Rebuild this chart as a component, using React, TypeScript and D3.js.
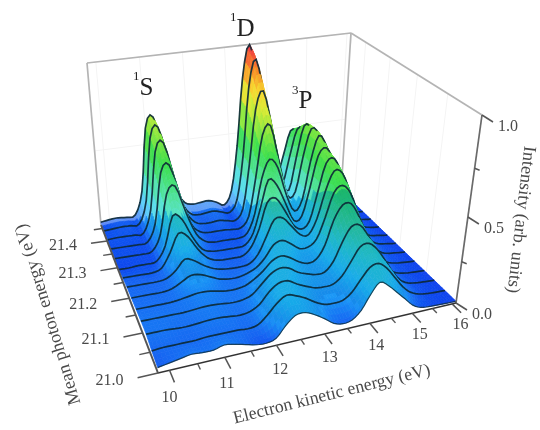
import React from "react";
import * as d3 from "d3";

const energies = [9.8,10,10.2,10.4,10.6,10.8,11,11.2,11.4,11.6,11.8,12,12.2,12.4,12.6,12.8,13,13.2,13.4,13.6,13.8,14,14.2,14.4,14.6,14.8,15,15.2,15.4,15.6,15.8,16,16.1];
const photonRows = [21.0,21.036,21.072,21.107,21.143,21.179,21.215,21.25,21.286,21.322,21.358,21.393,21.429,21.465];

const row00 = [.03,.04,.05,.06,.055,.055,.07,.06,.045,.03,.025,.04,.10,.145,.15,.125,.09,.05,.035,.045,.09,.17,.23,.2,.15,.1,.05,.025,.018,.015,.013,.012,.01];
const row01 = [.04,.045,.045,.045,.045,.05,.05,.05,.05,.045,.055,.1,.155,.19,.175,.15,.115,.09,.085,.09,.125,.19,.25,.265,.225,.16,.095,.05,.028,.018,.014,.012,.01];
const row02 = [.055,.055,.055,.05,.05,.055,.06,.06,.055,.05,.06,.09,.15,.19,.195,.165,.14,.12,.115,.12,.16,.235,.31,.32,.275,.2,.12,.06,.03,.02,.015,.012,.01];
const row03 = [.055,.055,.055,.055,.055,.06,.065,.065,.06,.055,.06,.08,.13,.18,.205,.195,.16,.14,.125,.13,.185,.29,.37,.37,.3,.205,.11,.055,.03,.02,.015,.012,.01];
const row04 = [.05,.05,.05,.05,.055,.065,.075,.075,.065,.055,.055,.065,.095,.135,.185,.205,.185,.15,.13,.145,.22,.36,.44,.44,.355,.24,.13,.065,.035,.022,.016,.012,.01];
const row05 = [.045,.045,.045,.045,.055,.085,.115,.11,.085,.06,.05,.05,.065,.09,.14,.21,.23,.2,.16,.16,.2,.32,.46,.495,.44,.31,.19,.1,.045,.025,.018,.012,.01];
const row06 = [.04,.04,.04,.04,.05,.09,.15,.13,.09,.06,.045,.04,.04,.05,.1,.2,.3,.3,.24,.18,.17,.26,.42,.53,.51,.39,.25,.13,.06,.03,.02,.012,.01];
const row07 = [.03,.03,.03,.03,.05,.14,.25,.22,.13,.065,.04,.035,.035,.04,.09,.2,.35,.37,.29,.19,.15,.19,.36,.53,.55,.44,.29,.15,.07,.03,.02,.012,.01];
const row08 = [.015,.015,.02,.02,.03,.12,.3,.27,.15,.06,.035,.03,.03,.03,.04,.11,.27,.43,.39,.27,.15,.17,.34,.53,.57,.47,.31,.17,.08,.035,.02,.012,.01];
const row09 = [.02,.02,.02,.02,.03,.13,.38,.42,.25,.1,.04,.025,.025,.025,.025,.05,.17,.39,.5,.44,.26,.15,.22,.45,.6,.53,.39,.22,.1,.04,.02,.012,.01];
const row10 = [.02,.02,.02,.02,.03,.15,.46,.5,.3,.11,.045,.03,.03,.03,.025,.03,.1,.34,.6,.65,.42,.2,.22,.44,.6,.56,.43,.26,.12,.05,.02,.012,.01];
const row11 = [.02,.025,.025,.025,.03,.18,.54,.59,.36,.14,.055,.035,.035,.04,.03,.025,.1,.38,.71,.81,.58,.27,.18,.39,.58,.55,.42,.25,.12,.05,.02,.012,.01];
const row12 = [.02,.025,.03,.03,.035,.19,.58,.64,.4,.16,.06,.04,.045,.05,.035,.025,.11,.4,.8,.95,.68,.31,.18,.35,.52,.5,.38,.23,.11,.05,.02,.012,.01];
const row13 = [.02,.03,.035,.03,.04,.2,.6,.66,.42,.18,.08,.06,.065,.07,.05,.025,.12,.42,.82,1.0,.76,.36,.18,.31,.47,.45,.34,.2,.1,.05,.02,.012,.01];
const intensityRows = [row00,row01,row02,row03,row04,row05,row06,row07,row08,row09,row10,row11,row12,row13];

const xTicks = [10,11,12,13,14,15,16];
const xMinor = [10.5,11.5,12.5,13.5,14.5,15.5];
const yTicks = [21.0,21.1,21.2,21.3,21.4];
const yMinor = [21.05,21.15,21.25,21.35,21.45];
const zTicks = [0,0.5,1];
const zMinor = [0.25,0.75];

type P = [number, number];
const floorQuad: P[] = [[158,373],[456,303],[341,192],[101,225]];
const topQuad: P[] = [[146,160],[482,115],[351,33],[87,63]];

function quadMap(q: P[]) {
  const [[x0,y0],[x1,y1],[x2,y2],[x3,y3]] = q;
  const dx1=x1-x2, dx2=x3-x2, sx=x0-x1+x2-x3, dy1=y1-y2, dy2=y3-y2, sy=y0-y1+y2-y3;
  const det=dx1*dy2-dx2*dy1;
  const g=(sx*dy2-dx2*sy)/det, h=(dx1*sy-sx*dy1)/det;
  const a=x1-x0+g*x1, b=x3-x0+h*x3, d=y1-y0+g*y1, e=y3-y0+h*y3;
  return (u:number,v:number):P=>{
    const w=1+g*u+h*v;
    return [(a*u+b*v+x0)/w,(d*u+e*v+y0)/w];
  };
}
const floorMap = quadMap(floorQuad);
const topMap = quadMap(topQuad);
const uScale = d3.scaleLinear().domain([9.8,16.1]).range([0,1]);
const vScale = d3.scaleLinear().domain([21.0,21.465]).range([0,1]);
const K = 0.843;
const tOf = (z:number)=> z*K/(1-z+z*K);
function project(u:number,v:number,z:number):P{
  const f=floorMap(u,v), t=topMap(u,v), s=tOf(z);
  return [f[0]+(t[0]-f[0])*s, f[1]+(t[1]-f[1])*s];
}

const cr=(a:number,b:number,c:number,d:number,t:number)=>
  0.5*(2*b+(c-a)*t+(2*a-5*b+4*c-d)*t*t+(3*b-a-3*c+d)*t*t*t);
function resample(arr:number[],n:number){
  const out:number[]=[];
  for(let i=0;i<arr.length-1;i++){
    const a=arr[Math.max(i-1,0)],b=arr[i],c=arr[i+1],d=arr[Math.min(i+2,arr.length-1)];
    for(let k=0;k<n;k++) out.push(cr(a,b,c,d,k/n));
  }
  out.push(arr[arr.length-1]);
  return out;
}
const SUBX=3, SUBY=4;
const fineX=resample(energies,SUBX);
const fineRowsByX=intensityRows.map(r=>resample(r,SUBX));
const fineV=resample(photonRows,SUBY);
const nCol=fineX.length;
const columns=d3.range(nCol).map(j=>resample(fineRowsByX.map(r=>r[j]),SUBY).map(z=>Math.max(0.004,Math.min(1,z))));
const nRow=fineV.length;
const grid:P[][]=d3.range(nRow).map(i=>d3.range(nCol).map(j=>project(uScale(fineX[j]),vScale(fineV[i]),columns[j][i])));

const colorStops=d3.scaleLinear<string>()
  .domain([0,.04,.1,.18,.28,.36,.5,.62,.72,.8,.9,1])
  .range(["#0c34ec","#1668f4","#1c9cf8","#24ccf6","#2cdcc8","#30dc90","#28dc3c","#8ce838","#dcec38","#f8d830","#f88828","#f03048"])
  .clamp(true);
const backA=project(0,1,0), backB=project(1,1,0);
function shade(z:number,x:number,y:number){
  const c=d3.rgb(colorStops(z));
  const yl=backA[1]+(backB[1]-backA[1])*(x-backA[0])/(backB[0]-backA[0]);
  if(y>yl){
    return d3.interpolateRgb(c,"#005ac8")(z<0.1?0.05:0.28);
  }
  return d3.interpolateRgb(c,"#ffffff")(Math.max(0,0.34*(1-z/0.7)));
}
const pathLine=d3.line<P>().x(d=>d[0]).y(d=>d[1]);

function surface(){
  const els:React.ReactNode[]=[];
  for(let i=nRow-1;i>=1;i--){
    for(let j=nCol-1;j>=1;j--){
      const pts:P[]=[grid[i][j],grid[i][j-1],grid[i-1][j-1],grid[i-1][j]];
      const z=(columns[j][i]+columns[j-1][i]+columns[j][i-1]+columns[j-1][i-1])/4;
      const cx=d3.mean(pts,p=>p[0])!, cy=d3.mean(pts,p=>p[1])!;
      const c=shade(z,cx,cy);
      els.push(<path key={`q${i}-${j}`} d={pathLine(pts)+"Z"} fill={c} stroke={c} strokeWidth={0.7}/>);
    }
    if(i%SUBY===SUBY-1){
      const ri=i+1;
      els.push(<path key={`l${ri}`} d={pathLine(grid[ri])!} fill="none" stroke="#0e2a38" strokeOpacity={0.92} strokeWidth={1.7}/>);
    }
  }
  els.push(<path key="l0" d={pathLine(grid[0])!} fill="none" stroke="#0e2a38" strokeOpacity={0.8} strokeWidth={1.2}/>);
  return els;
}
const TICKC="#555";
const LAB="#4a4a4a";
const serif="'Liberation Serif','Times New Roman',serif";
function seg(a:P,b:P,stroke:string,w:number,key:string){
  return <line key={key} x1={a[0]} y1={a[1]} x2={b[0]} y2={b[1]} stroke={stroke} strokeWidth={w}/>;
}

export default function App(){
  const wallC="#b4b4b4";
  const gridC="#f4f4f4";
  return (
    <svg width={540} height={430} style={{position:"absolute",left:0,top:0}} fontFamily={serif}>
      <defs>
        <filter id="soft" x="0" y="0" width="100%" height="100%"><feGaussianBlur stdDeviation="0.7"/></filter>
      </defs>
      <rect width={540} height={430} fill="#fff"/>
      <g filter="url(#soft)">
        {xTicks.map(t=>seg(project(uScale(t),1,0),project(uScale(t),1,1),gridC,1,"gx"+t))}
        {yTicks.map(t=>seg(project(1,vScale(t),0),project(1,vScale(t),1),gridC,1,"gy"+t))}
        {zTicks.map(t=>seg(project(0,1,t),project(1,1,t),gridC,1,"gz"+t))}
        {seg(project(0,1,1),project(1,1,1),wallC,1.7,"w1")}
        {seg(project(0,1,0),project(0,1,1),wallC,1.7,"w2")}
        {seg(project(1,1,0),project(1,1,1),wallC,1.7,"w3")}
        {seg(project(1,1,1),project(1,0,1),wallC,1.7,"w4")}
        {surface()}
        {seg(project(1,0,0),project(1,0,1),"#6a6a6a",1.7,"zaxis")}
        {seg(project(0,0,0),project(1,0,0),"#333",1.5,"xaxis")}
        {seg(project(0,0,0),project(0,1,0),"#555",2,"yaxis")}
        {xTicks.map(t=>seg(project(uScale(t),0,0),project(uScale(t),-0.06,0),TICKC,1.5,"xt"+t))}
        {xMinor.map(t=>seg(project(uScale(t),0,0),project(uScale(t),-0.03,0),TICKC,1.4,"xm"+t))}
        {yTicks.map(t=>seg(project(0,vScale(t),0),project(-0.055,vScale(t),0),TICKC,1.5,"yt"+t))}
        {yMinor.map(t=>seg(project(0,vScale(t),0),project(-0.03,vScale(t),0),TICKC,1.4,"ym"+t))}
        {zTicks.map(t=>{const p=project(1,0,t);return seg(p,[p[0]+11,p[1]+7],TICKC,1.5,"zt"+t);})}
        {zMinor.map(t=>{const p=project(1,0,t);return seg(p,[p[0]+5,p[1]+2],TICKC,1.4,"zm"+t);})}
        {xTicks.map(t=>{const p=project(uScale(t),-0.12,0);return <text key={"xl"+t} x={p[0]-10} y={p[1]+7} textAnchor="middle" fontSize={16} fill={LAB}>{t}</text>;})}
        {yTicks.map(t=>{const p=project(-0.055,vScale(t),0);return <text key={"yl"+t} x={p[0]-28} y={p[1]+7} textAnchor="middle" fontSize={16} fill={LAB}>{t.toFixed(1)}</text>;})}
        {zTicks.map(t=>{const p=project(1,0,t);return <text key={"zl"+t} x={p[0]+26} y={p[1]+16} textAnchor="middle" fontSize={16} fill={LAB}>{t.toFixed(1)}</text>;})}
        <text transform="translate(333,399) rotate(-14)" textAnchor="middle" fontSize={17.8} fill={LAB}>Electron kinetic energy (eV)</text>
        <text transform="translate(53,313) rotate(-107)" textAnchor="middle" fontSize={18.2} fill={LAB}>Mean photon energy (eV)</text>
        <text transform="translate(516,219) rotate(96.5)" textAnchor="middle" fontSize={18.2} fill={LAB}>Intensity (arb. units)</text>
        <text x={139} y={95} fontSize={25} fill="#222"><tspan fontSize={13} dy={-15} dx={-6}>1</tspan><tspan dy={15}>S</tspan></text>
        <text x={231} y={36} fontSize={25} fill="#222"><tspan fontSize={13} dy={-15} dx={-1}>1</tspan><tspan dy={15}>D</tspan></text>
        <text x={292} y={108} fontSize={25} fill="#222"><tspan fontSize={13} dy={-14}>3</tspan><tspan dy={14}>P</tspan></text>
      </g>
    </svg>
  );
}
